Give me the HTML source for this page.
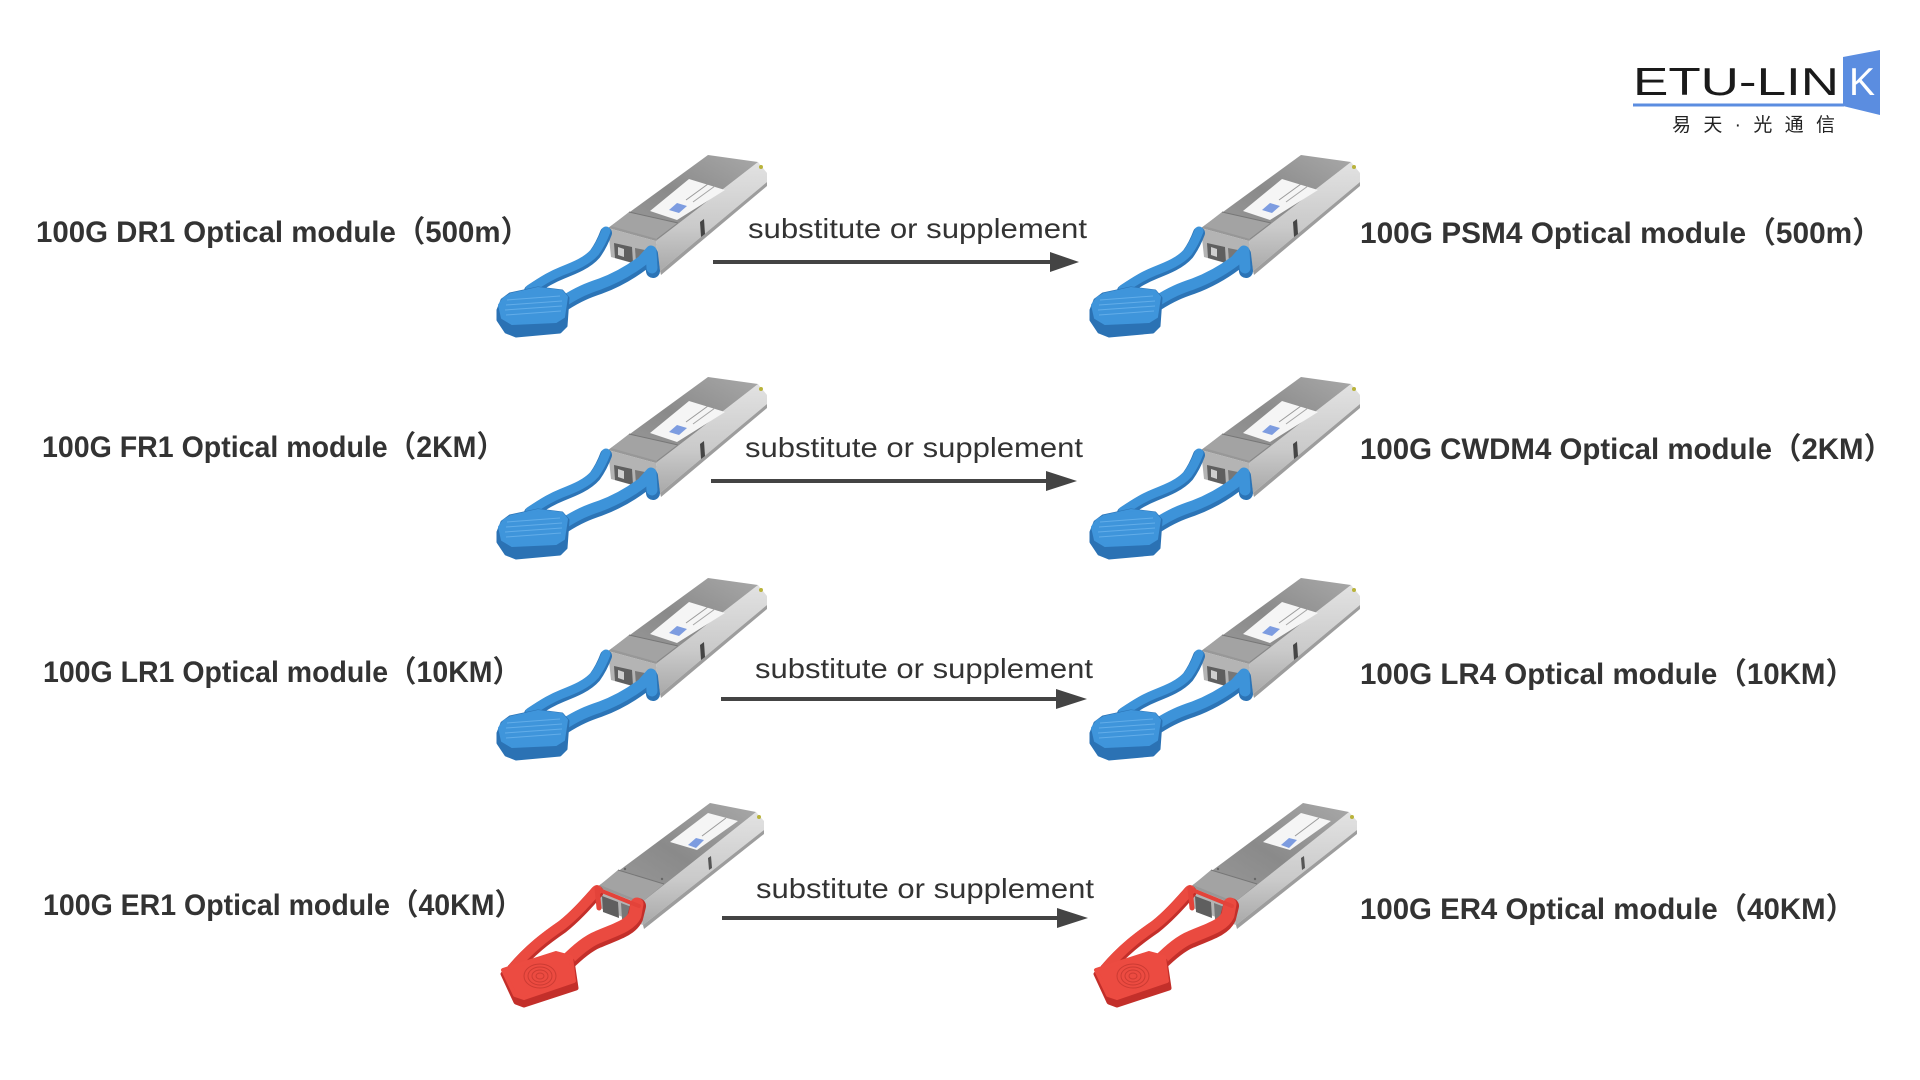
<!DOCTYPE html>
<html>
<head>
<meta charset="utf-8">
<style>
html,body{margin:0;padding:0;background:#fff;}
body{width:1920px;height:1080px;overflow:hidden;}
svg{display:block;}
.lbl{font-family:"Liberation Sans","Noto Sans CJK SC",sans-serif;font-weight:bold;font-size:30px;fill:#333;}
.sub{font-family:"Liberation Sans","Noto Sans CJK SC",sans-serif;font-size:28px;fill:#333;}
</style>
</head>
<body>
<svg width="1920" height="1080" viewBox="0 0 1920 1080" xmlns="http://www.w3.org/2000/svg">
<defs>
  <linearGradient id="topg" x1="0" y1="1" x2="1" y2="0">
    <stop offset="0" stop-color="#9c9c9c"/>
    <stop offset="0.5" stop-color="#8a8a8a"/>
    <stop offset="1" stop-color="#a8a8a8"/>
  </linearGradient>
  <linearGradient id="sideg" x1="0" y1="0" x2="0" y2="1">
    <stop offset="0" stop-color="#e2e2e2"/>
    <stop offset="0.6" stop-color="#cacaca"/>
    <stop offset="1" stop-color="#a9a9a9"/>
  </linearGradient>

  <g id="blue">
    <!-- side face -->
    <polygon points="166,101 268,22 277,33 277,42 170,131" fill="url(#sideg)"/>
    <polygon points="170,131 277,42 277,46 171,135" fill="#9d9d9d"/>
    <!-- top face -->
    <polygon points="118,88 218,15 268,22 166,101" fill="url(#topg)"/>
    <!-- raised cage near front -->
    <polygon points="121,86 139,72 188,83 167,99" fill="#a3a3a3"/>
    <polyline points="139,72 188,83" fill="none" stroke="#777" stroke-width="1"/>
    <polyline points="188,83 167,99" fill="none" stroke="#888" stroke-width="1"/>
    <!-- front face -->
    <polygon points="118,88 166,101 170,131 121,117" fill="#b4b4b4"/>
    <polygon points="124,103 142,107 143,123 125,118" fill="#5f5f5f"/>
    <polygon points="145,108 160,111 161,127 146,123" fill="#777"/>
    <polygon points="128,107 134,109 134,117 128,115" fill="#cfcfcf"/>
    <!-- label -->
    <polygon points="160,71 199,39 235,50 187,80" fill="#f5f5f5"/>
    <polygon points="179,70 187,63 197,66 189,73" fill="#7d9ce0"/>
    <polyline points="196,60 218,44" stroke="#9a9a9a" stroke-width="1"/>
    <polyline points="203,62 225,46" stroke="#a5a5a5" stroke-width="1"/>
    <!-- side slot -->
    <polygon points="210,82 214,79 215,94 211,97" fill="#454545"/>
    <!-- back pin -->
    <circle cx="271" cy="27" r="2" fill="#b9b33a"/>
    <!-- handle: back arm -->
    <path d="M40,151 C55,141 62,137 72,133 C85,128 97,123 105,114 C110,107 113,101 116,93" fill="none" stroke="#2c74b6" stroke-width="12" stroke-linecap="round" stroke-linejoin="round"/>
    <path d="M40,149 C55,139 62,135 72,131 C85,126 97,121 105,112 C110,105 113,99 116,91" fill="none" stroke="#3d93d9" stroke-width="9" stroke-linecap="round" stroke-linejoin="round"/>
    <!-- handle: front arm -->
    <path d="M74,164 C88,155 98,151 110,147 C126,141 140,133 152,124 L161,114 L163,131" fill="none" stroke="#2c74b6" stroke-width="14" stroke-linecap="round" stroke-linejoin="round"/>
    <path d="M74,161 C88,152 98,148 110,144 C126,138 140,130 152,121 L161,111 L162,128" fill="none" stroke="#3d93d9" stroke-width="11" stroke-linecap="round" stroke-linejoin="round"/>
    <!-- tab -->
    <polygon points="8,170 12,160 20,154 48,148 72,151 78,158 76,186 70,192 26,196 16,192 8,180" fill="#2b72b4" stroke="#2b72b4" stroke-width="3" stroke-linejoin="round"/>
    <polygon points="9,165 14,158 21,154 48,148 72,151 77,157 74,177 66,182 22,184 12,178" fill="#3f95db" stroke="#3f95db" stroke-width="2" stroke-linejoin="round"/>
    <g stroke="#62ade9" stroke-width="1" fill="none">
      <line x1="17" y1="160" x2="70" y2="156"/>
      <line x1="16" y1="165" x2="72" y2="161"/>
      <line x1="15" y1="170" x2="72" y2="166"/>
      <line x1="16" y1="175" x2="71" y2="171"/>
    </g>
  </g>

  <g id="red">
    <!-- side face -->
    <polygon points="150,104 266,12 274,21 274,30 153,125" fill="url(#sideg)"/>
    <polygon points="153,125 274,30 274,34 154,129" fill="#9d9d9d"/>
    <!-- top face -->
    <polygon points="107,87 220,3 266,12 150,104" fill="url(#topg)"/>
    <polygon points="110,85 128,70 174,84 152,102" fill="#a3a3a3"/>
    <polyline points="128,70 174,84" stroke="#777" stroke-width="1"/>
    <circle cx="135" cy="69" r="1.2" fill="#666"/>
    <circle cx="172" cy="79" r="1.2" fill="#666"/>
    <!-- front face -->
    <polygon points="107,87 150,104 153,125 110,108" fill="#b4b4b4"/>
    <polygon points="112,96 128,102 129,118 113,112" fill="#5f5f5f"/>
    <polygon points="131,103 147,109 148,124 132,119" fill="#777"/>
    <!-- label -->
    <polygon points="180,42 218,13 248,21 207,50" fill="#f5f5f5"/>
    <polygon points="198,45 206,38 214,40 206,48" fill="#7d9ce0"/>
    <polyline points="212,36 236,18" stroke="#9a9a9a" stroke-width="1"/>
    <!-- side slot -->
    <polygon points="218,58 221,56 222,68 219,70" fill="#555"/>
    <circle cx="269" cy="17" r="2" fill="#b9b33a"/>
    <!-- handle back arm -->
    <path d="M23,170 C40,150 56,138 72,127 C86,116 98,102 107,92" fill="none" stroke="#c32f2a" stroke-width="13" stroke-linecap="round" stroke-linejoin="round"/>
    <path d="M23,168 C40,148 56,136 72,125 C86,114 98,100 107,90" fill="none" stroke="#ea4a40" stroke-width="10" stroke-linecap="round" stroke-linejoin="round"/>
    <!-- handle front arm -->
    <path d="M75,165 C88,152 98,144 108,140 C124,133 140,129 145,118 L148,106" fill="none" stroke="#c32f2a" stroke-width="16" stroke-linecap="round" stroke-linejoin="round"/>
    <path d="M75,162 C88,149 98,141 108,137 C124,130 140,126 145,115 L147,104" fill="none" stroke="#ea4a40" stroke-width="13" stroke-linecap="round" stroke-linejoin="round"/>
    <!-- red bar on front top -->
    <path d="M107,89 L149,106" stroke="#e3433a" stroke-width="4" stroke-linecap="round"/>
    <path d="M107,88 L109,108" stroke="#e3433a" stroke-width="5" stroke-linecap="round"/>
    <!-- tab -->
    <polygon points="13,174 66,157 82,161 86,188 34,205 26,202" fill="#c32f2a" stroke="#c32f2a" stroke-width="5" stroke-linejoin="round"/>
    <polygon points="13,170 66,153 81,157 84,181 34,198 25,195" fill="#ec4b41" stroke="#ec4b41" stroke-width="4" stroke-linejoin="round"/>
    <g fill="none" stroke="#cc3b33" stroke-width="1">
      <ellipse cx="50" cy="176" rx="4" ry="3"/>
      <ellipse cx="50" cy="176" rx="8" ry="6"/>
      <ellipse cx="50" cy="176" rx="12" ry="9"/>
      <ellipse cx="50" cy="176" rx="16" ry="12"/>
    </g>
  </g>
</defs>

<rect x="0" y="0" width="1920" height="1080" fill="#fff"/>

<!-- Logo -->
<text x="1633" y="95" font-family="Liberation Sans, sans-serif" font-size="39" fill="#1a1a1a" textLength="206" lengthAdjust="spacingAndGlyphs">ETU-LIN</text>
<polygon points="1843,57 1880,50 1880,115 1843,106" fill="#5b8de0"/>
<text x="1849" y="95" font-family="Liberation Sans, sans-serif" font-size="39" fill="#fff">K</text>
<rect x="1633" y="103.5" width="211" height="3" fill="#5b8de0"/>
<text x="1672" y="131" font-family="'Liberation Sans','Noto Sans CJK SC',sans-serif" font-size="19" fill="#222" textLength="163" lengthAdjust="spacing">易天·光通信</text>

<!-- Modules -->
<use href="#blue" x="490" y="140"/>
<use href="#blue" x="1083" y="140"/>
<use href="#blue" x="490" y="362"/>
<use href="#blue" x="1083" y="362"/>
<use href="#blue" x="490" y="563"/>
<use href="#blue" x="1083" y="563"/>
<use href="#red" x="490" y="800"/>
<use href="#red" x="1083" y="800"/>

<!-- Left labels -->
<text class="lbl" x="36" y="242" textLength="494" lengthAdjust="spacingAndGlyphs">100G DR1 Optical module（500m）</text>
<text class="lbl" x="42" y="457" textLength="463" lengthAdjust="spacingAndGlyphs">100G FR1 Optical module（2KM）</text>
<text class="lbl" x="43" y="682" textLength="478" lengthAdjust="spacingAndGlyphs">100G LR1 Optical module（10KM）</text>
<text class="lbl" x="43" y="915" textLength="480" lengthAdjust="spacingAndGlyphs">100G ER1 Optical module（40KM）</text>

<!-- Right labels -->
<text class="lbl" x="1360" y="243" textLength="522" lengthAdjust="spacingAndGlyphs">100G PSM4 Optical module（500m）</text>
<text class="lbl" x="1360" y="459" textLength="533" lengthAdjust="spacingAndGlyphs">100G CWDM4 Optical module（2KM）</text>
<text class="lbl" x="1360" y="684" textLength="495" lengthAdjust="spacingAndGlyphs">100G LR4 Optical module（10KM）</text>
<text class="lbl" x="1360" y="919" textLength="495" lengthAdjust="spacingAndGlyphs">100G ER4 Optical module（40KM）</text>

<!-- Arrow texts -->
<text class="sub" x="748" y="238" textLength="339" lengthAdjust="spacingAndGlyphs">substitute or supplement</text>
<text class="sub" x="745" y="457" textLength="338" lengthAdjust="spacingAndGlyphs">substitute or supplement</text>
<text class="sub" x="755" y="678" textLength="338" lengthAdjust="spacingAndGlyphs">substitute or supplement</text>
<text class="sub" x="756" y="898" textLength="338" lengthAdjust="spacingAndGlyphs">substitute or supplement</text>

<!-- Arrows -->
<g fill="#444" stroke="none">
  <rect x="713" y="260" width="340" height="4"/>
  <polygon points="1050,252 1079,262 1050,272"/>
  <rect x="711" y="479" width="338" height="4"/>
  <polygon points="1046,471 1077,481 1046,491"/>
  <rect x="721" y="697" width="338" height="4"/>
  <polygon points="1056,689 1087,699 1056,709"/>
  <rect x="722" y="916" width="338" height="4"/>
  <polygon points="1057,908 1088,918 1057,928"/>
</g>
</svg>
</body>
</html>
